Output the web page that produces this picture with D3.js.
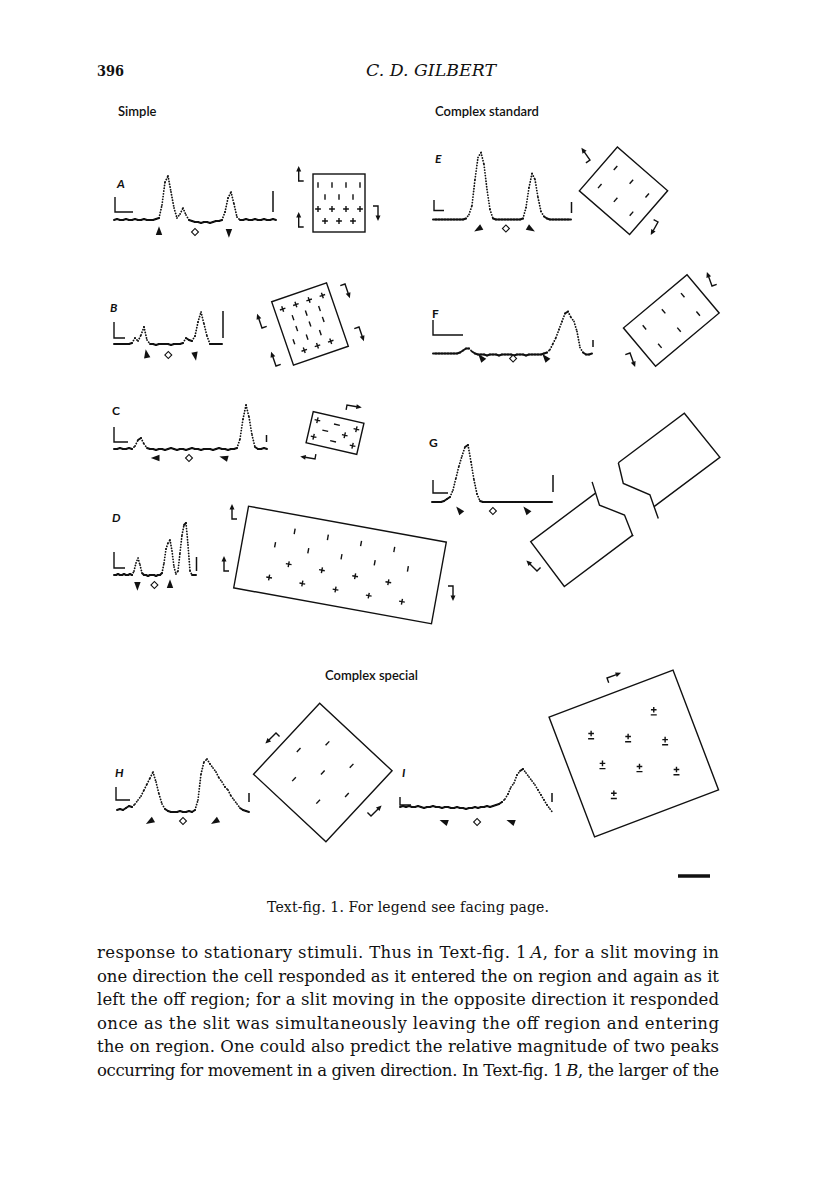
<!DOCTYPE html>
<html>
<head>
<meta charset="utf-8">
<script src="https://cdn.jsdelivr.net/npm/d3@7"></script>
<style>
  body { margin: 0; background: #fff; }
</style>
</head>
<body>
<div id="chart"></div>
<script>
// response histograms, height above resting level per bin
const respA = [0,1,0,0,1,0,0,1,0,0,1,0,0,0,1,2,15,38,44,28,12,2,6,12,5,0,-1,-2,-2,-3,-2,-2,-3,-2,-1,-1,0,8,22,28,16,3,0,0,1,0,0,1,0,0,1,0,0,1,0];
const respB = [0,0,0,0,0,0,1,6,3,9,17,4,0,0,-1,0,0,0,0,-1,0,0,0,1,6,4,3,8,22,32,20,8,0,0,0,0,0];
const respC = [0,0,1,0,0,1,0,3,9,11,5,1,0,0,-1,0,0,-1,0,1,0,-1,0,0,-1,0,1,0,0,-1,0,0,0,-1,0,1,0,0,-1,0,0,1,10,30,44,32,14,2,0,0,1,0];
const respD = [0,0,1,0,0,1,0,0,1,0,4,12,17,10,2,0,0,-1,0,0,0,-1,0,0,2,12,26,32,35,24,8,1,4,22,40,50,52,30,4,0,0,0];
const respE = [0,0,0,0,0,0,0,0,0,0,0,1,5,14,40,62,67,55,30,10,1,0,0,0,0,0,0,0,0,0,1,12,32,46,40,22,8,3,1,0,0,0,0,0,0,0,0];
const respF = [0,0,0,0,0,0,0,0,0,1,3,5,5,2,0,-1,-1,-1,-2,-1,-1,-1,-2,-1,-1,-1,-1,-2,-1,-1,-1,-2,-1,-1,-1,-1,-1,0,1,4,10,16,24,32,40,42,36,32,22,6,1,-1,-1,0];
const respG = [0,0,0,0,1,3,5,12,24,36,46,55,57,40,22,8,1,0,0,0,0,0,0,0,0,0,0,0,0,0,0,0,0,0,0,0,0,0,0,0,0];
const respH = [2,3,2,4,6,5,8,12,16,22,28,34,40,30,18,8,3,1,0,0,0,1,0,0,1,0,2,12,38,50,53,48,44,40,34,30,25,22,16,12,8,4,2,1,0];
const respI = [0,1,0,1,0,0,1,0,-1,0,0,1,0,0,-1,0,0,-1,-1,0,-1,-1,-2,-1,-1,0,-1,0,0,1,0,1,2,3,5,8,13,20,24,32,36,38,34,30,26,22,17,12,7,2,-2,-6];

// stimulus markers: [bin, symbol, rotation]
const markA = [[15,"tri",0],[27,"dia",0],[38.3,"tri",180]];
const markB = [[10.9,"tri",-10],[18.1,"dia",0],[27,"tri",170]];
const markC = [[14.2,"tri",-90],[25,"dia",0],[37,"tri",-75]];
const markD = [[11.7,"tri",180],[20.2,"dia",0],[28,"tri",0]];
const markE = [[15.4,"tri",-120],[24.3,"dia",0],[32.3,"tri",120]];
const markF = [[16.3,"tri",-40],[26.7,"dia",0],[37.7,"tri",-40]];
const markG = [[9.3,"tri",-40],[20.3,"dia",0],[31.7,"tri",-40]];
const markH = [[11.3,"tri",-120],[22,"dia",0],[33,"tri",-120]];
const markI = [[15,"tri",-70],[25.7,"dia",0],[37.3,"tri",-70]];

// receptive field maps (| on-bar, + on, - off, ± on-off, . empty)
const fieldA = ["|.|.|.|", ".|.|.|.", "+.+.+.+", ".+.+.+."];
const fieldB = ["+.+.+.+", ".|.|.|.", ".|.|.|.", "|.|.|..", ".+.+.+."];
const fieldC = ["+.-.+", ".-.+.", "+.-.+"];
const fieldD = [".|.|.|.|.", "|.|.|.|.|", ".+.+.+.+.", "+.+.+.+.+"];
const fieldE = ["|||", "|||"];
const fieldF = ["|||", "|||"];
const fieldH = [".|.|.", "|.|.|", ".|.|."];
const fieldI = ["±.±", ".±.", "±.±", ".±.", "±.±"];

const sections = ["Simple", "Complex standard", "Complex special"];
const caption = "Text-fig. 1. For legend see facing page.";
const bodyLines = [
  ["response to stationary stimuli. Thus in Text-fig. 1\u2009", "A", ", for a slit moving in"],
  ["one direction the cell responded as it entered the on region and again as it"],
  ["left the off region; for a slit moving in the opposite direction it responded"],
  ["once as the slit was simultaneously leaving the off region and entering"],
  ["the on region. One could also predict the relative magnitude of two peaks"],
  ["occurring for movement in a given direction. In Text-fig. 1\u2009", "B", ", the larger of the"]
];

const panels = [
  {name:"A", it:true,  resp:respA, mark:markA, x0:114, step:3, base:220, mdy:12, lab:[117,188], calib:[115,197,212,133], bar:[273,191,212]},
  {name:"B", it:true,  resp:respB, mark:markB, x0:114, step:3, base:344, mdy:11, lab:[110,312], calib:[114,322,338,125], bar:[223,311,338]},
  {name:"C", it:false, resp:respC, mark:markC, x0:114, step:3, base:449, mdy:9,  lab:[112,415], calib:[114,427,442,128], bar:[266.5,435,442]},
  {name:"D", it:true,  resp:respD, mark:markD, x0:114, step:2, base:575, mdy:10, lab:[112,522], calib:[114,552,568,125], bar:[196.5,557,571]},
  {name:"E", it:true,  resp:respE, mark:markE, x0:433, step:3, base:219.5, mdy:9, lab:[435,163], calib:[434,200,210.5,444], bar:[571.5,202,213]},
  {name:"F", it:false, resp:respF, mark:markF, x0:433, step:3, base:353.5, mdy:5, lab:[432,318], calib:[433,320,335,463], bar:[593,340,347]},
  {name:"G", it:false, resp:respG, mark:markG, x0:432, step:3, base:502, mdy:9,  lab:[429,447], calib:[433,480,493,448], bar:[553,475,492]},
  {name:"H", it:true,  resp:respH, mark:markH, x0:117, step:3, base:812, mdy:9,  lab:[115,777], calib:[116,787,800,130], bar:[249,793,802]},
  {name:"I", it:true,  resp:respI, mark:markI, x0:400, step:3, base:807, mdy:15, lab:[402,777], calib:[400,797,805,411], bar:[552,793,802]}
];

const fields = [
  {map:fieldA, cx:339, cy:203, w:52, h:58, angle:0, gw:42, gh:36},
  {map:fieldB, cx:310, cy:324, w:58, h:67, angle:-19, gw:42, gh:46},
  {map:fieldC, cx:335, cy:433, w:52, h:32, angle:13, gw:40, gh:17},
  {map:fieldD, cx:340, cy:565, w:201, h:83, angle:10.3, gw:135, gh:50},
  {map:fieldE, cx:623.5, cy:190.8, w:66.6, h:58, angle:41, gw:42, gh:24},
  {map:fieldF, cx:671.3, cy:320.5, w:83, h:50, angle:-40, gw:50, gh:24},
  {map:fieldH, cx:322.8, cy:772.5, w:99, h:97, angle:43, gw:66, gh:49},
  {map:fieldI, cx:633.8, cy:753.5, w:132.6, h:128.2, angle:-20.8, gw:67, gh:64}
];

// direction-of-motion arrows [x, y, angle, flip]
const arrows = [
  [298.7,181,0],[298.7,227,0],[378,206,180],
  [262,328,-19],[276,366,-19],[345,284,161],[359,327,161],
  [347,405,100],[315,459,-80],
  [232,519,0],[224,571,0],[453,586,180],
  [590,160,-35,true],[658,222,-151],
  [712,286,-20],[630,353,160],
  [537,571,-45],
  [276,733,-135,true],[371,816,45,true],
  [607,678,70]
];

// split field of panel G: two pieces of one rectangle, local frame
const gFrame = {x:530.7, y:541.7, angle:-36.87};
const gPieces = [
  {edge:[[81,0],[0,0],[0,56],[86,56]], cut:[[85,-11],[77,12],[91,35],[85,57]]},
  {edge:[[117.5,-10.6],[200,-10.6],[202,46],[119.7,46]], cut:[[117.5,-10.6],[109,9],[123.5,34],[116,58]]}
];

const serif = "'DejaVu Serif', 'Liberation Serif', serif";
const sans = "Lato, 'Open Sans', sans-serif";
const ink = "#111";

const svg = d3.select("#chart").append("svg")
  .attr("width", 816).attr("height", 1199)
  .style("background", "#fff");

// header
svg.append("text").attr("x", 97).attr("y", 76).text("396")
  .attr("textLength", 27).attr("lengthAdjust", "spacingAndGlyphs")
  .style("font-family", serif).style("font-weight", "bold")
  .style("font-size", "15.5px").style("fill", ink);
svg.append("text").attr("x", 366).attr("y", 76).text("C. D. GILBERT")
  .attr("textLength", 130).attr("lengthAdjust", "spacingAndGlyphs")
  .style("font-family", serif).style("font-style", "italic")
  .style("font-size", "16.5px").style("fill", ink);

[[118,116],[435,116],[325,680]].forEach((p, i) => {
  svg.append("text").attr("x", p[0]).attr("y", p[1]).text(sections[i])
    .style("font-family", sans).style("font-size", "13px")
    .style("font-weight", 600).style("fill", ink);
});

panels.forEach(p => {
  const g = svg.append("g");
  const n = p.resp.length;
  const x = d3.scaleLinear().domain([0, n - 1]).range([p.x0, p.x0 + p.step * (n - 1)]);
  const y = d3.scaleLinear().domain([0, 60]).range([p.base, p.base - 60]);
  const pts = p.resp.map((v, i) => [x(i), y(v)]);
  const segs = d3.pairs(pts);
  const steep = d => Math.abs(d[1][1] - d[0][1]) > 2.5;

  g.selectAll("line.seg").data(segs).join("line")
    .attr("class", "seg")
    .attr("x1", d => d[0][0]).attr("y1", d => d[0][1])
    .attr("x2", d => d[1][0]).attr("y2", d => d[1][1])
    .attr("stroke", ink)
    .attr("stroke-linecap", "round")
    .attr("stroke-width", d => steep(d) ? 1.8 : 2)
    .attr("stroke-dasharray", d => steep(d) ? "0.1 2.7" : null);

  // calibration
  const c = p.calib;
  g.append("path").attr("d", `M${c[0]},${c[1]}V${c[2]}H${c[3]}`)
    .attr("fill", "none").attr("stroke", ink).attr("stroke-width", 1.4);
  g.append("line").attr("x1", p.bar[0]).attr("x2", p.bar[0])
    .attr("y1", p.bar[1]).attr("y2", p.bar[2])
    .attr("stroke", ink).attr("stroke-width", 1.5);

  // markers
  p.mark.forEach(m => {
    const mx = x(m[0]), my = p.base + p.mdy;
    if (m[1] === "dia") {
      g.append("path").attr("d", d3.symbol(d3.symbolSquare, 24)())
        .attr("transform", `translate(${mx},${my}) rotate(45)`)
        .attr("fill", "#fff").attr("stroke", ink).attr("stroke-width", 1.1);
    } else {
      g.append("path").attr("d", d3.symbol(d3.symbolTriangle, 28)())
        .attr("transform", `translate(${mx},${my}) rotate(${m[2]}) scale(0.8,1.25)`)
        .attr("fill", ink);
    }
  });

  g.append("text").attr("x", p.lab[0]).attr("y", p.lab[1]).text(p.name)
    .style("font-family", sans).style("font-weight", 700)
    .style("font-style", p.it ? "italic" : "normal")
    .style("font-size", "12px").style("fill", ink);
});

// receptive fields
fields.forEach(f => {
  const g = svg.append("g").attr("transform", `translate(${f.cx},${f.cy}) rotate(${f.angle})`);
  g.append("rect").attr("x", -f.w / 2).attr("y", -f.h / 2)
    .attr("width", f.w).attr("height", f.h)
    .attr("fill", "none").attr("stroke", ink).attr("stroke-width", 1.4);
  const cols = f.map[0].length, rows = f.map.length;
  const sx = d3.scalePoint().domain(d3.range(cols)).range([-f.gw / 2, f.gw / 2]);
  const sy = d3.scalePoint().domain(d3.range(rows)).range([-f.gh / 2, f.gh / 2]);
  f.map.forEach((row, r) => {
    row.split("").forEach((ch, k) => {
      const px = cols > 1 ? sx(k) : 0, py = rows > 1 ? sy(r) : 0;
      let d = null;
      if (ch === "|") d = `M${px},${py - 2.7}V${py + 2.7}`;
      else if (ch === "+") d = `M${px - 2.9},${py}H${px + 2.9}M${px},${py - 2.9}V${py + 2.9}`;
      else if (ch === "-") d = `M${px - 3},${py}H${px + 3}`;
      if (d) {
        g.append("path").attr("d", d).attr("stroke", ink).attr("stroke-width", 1.4);
      } else if (ch === "±") {
        g.append("path")
          .attr("transform", `translate(${px},${py}) rotate(${-f.angle})`)
          .attr("d", "M-2.8,-2H2.8M0,-4.8V0.8M-3,3.2H3")
          .attr("stroke", ink).attr("stroke-width", 1.4);
      }
    });
  });
});

// split field G
const gg = svg.append("g").attr("transform", `translate(${gFrame.x},${gFrame.y}) rotate(${gFrame.angle})`);
const poly = d3.line();
gPieces.forEach(pc => {
  gg.append("path").attr("d", poly(pc.edge)).attr("fill", "none")
    .attr("stroke", ink).attr("stroke-width", 1.4);
  gg.append("path").attr("d", poly(pc.cut)).attr("fill", "none")
    .attr("stroke", ink).attr("stroke-width", 1.4);
});

// arrows
arrows.forEach(a => {
  const foot = a[3] ? -5 : 5;
  const g = svg.append("g").attr("transform", `translate(${a[0]},${a[1]}) rotate(${a[2]})`);
  g.append("path").attr("d", `M${foot},0H0V-10`).attr("fill", "none")
    .attr("stroke", ink).attr("stroke-width", 1.4);
  g.append("path").attr("d", "M-2.5,-9.5L0,-15L2.5,-9.5Z").attr("fill", ink);
});

// scale bar
svg.append("line").attr("x1", 678).attr("x2", 710).attr("y1", 876).attr("y2", 876)
  .attr("stroke", ink).attr("stroke-width", 3.5);

svg.append("text").attr("x", 408).attr("y", 912).attr("text-anchor", "middle")
  .attr("textLength", 282).attr("lengthAdjust", "spacing")
  .text(caption)
  .style("font-family", serif).style("font-size", "14px").style("fill", ink);

bodyLines.forEach((parts, i) => {
  const t = svg.append("text").attr("x", 97).attr("y", 958 + i * 23.5)
    .attr("textLength", 622).attr("lengthAdjust", "spacing")
    .style("font-family", serif).style("font-size", "16.5px").style("fill", ink);
  parts.forEach((s, k) => {
    t.append("tspan").text(s).style("font-style", k === 1 ? "italic" : "normal");
  });
});
</script>
</body>
</html>
